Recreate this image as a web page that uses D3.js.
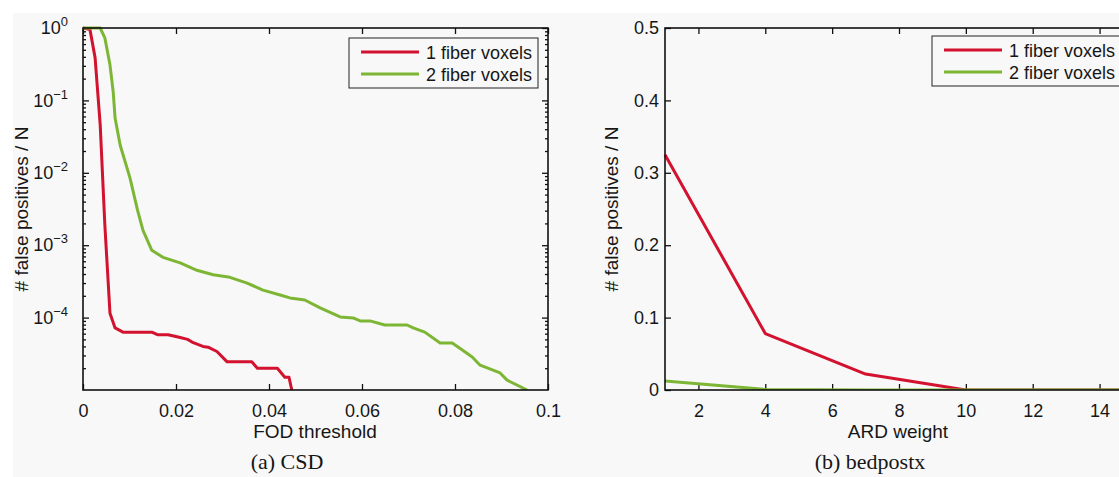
<!DOCTYPE html>
<html>
<head>
<meta charset="utf-8">
<script src="https://cdn.jsdelivr.net/npm/d3@7"></script>
<style>
	body { margin: 0; background: #fff; }
	svg { display: block; }
	.tick text { font-family: "Liberation Sans", Arial, sans-serif; font-size: 18px; fill: #161616; }
	.lbl { font-family: "Liberation Sans", Arial, sans-serif; font-size: 19px; fill: #161616; }
	.leg { font-family: "Liberation Sans", Arial, sans-serif; font-size: 18px; fill: #161616; }
	.cap { font-family: "Liberation Serif", "Times New Roman", serif; font-size: 22px; fill: #161616; }
</style>
</head>
<body>
<div id="vis"></div>
<script>
// (a) CSD, FOD threshold vs false positives / N (log scale)
var csdOneX = [0, 0.0015, 0.0026, 0.0037, 0.0047, 0.0058, 0.0069, 0.0086, 0.0148, 0.016, 0.0183, 0.0209, 0.0225,
	0.0237, 0.0258, 0.0269, 0.0288, 0.031, 0.0363, 0.0375, 0.0418, 0.0434, 0.0443, 0.0449];
var csdOneY = [1, 0.95, 0.39, 0.046, 0.0019, 1.15e-4, 7.2e-5, 6.3e-5, 6.3e-5, 5.8e-5, 5.8e-5, 5.3e-5, 5.0e-5,
	4.5e-5, 4.0e-5, 3.9e-5, 3.4e-5, 2.45e-5, 2.45e-5, 2.0e-5, 2.0e-5, 1.5e-5, 1.5e-5, 1e-5];

var csdTwoX = [0, 0.0037, 0.0047, 0.0058, 0.0065, 0.0069, 0.008, 0.0101, 0.0117, 0.0129, 0.0148, 0.0172, 0.0209,
	0.0245, 0.028, 0.0316, 0.0353, 0.0387, 0.0424, 0.0445, 0.0477, 0.051, 0.0553, 0.0581, 0.0596, 0.0617, 0.0649,
	0.0697, 0.071, 0.0735, 0.0768, 0.0794, 0.0815, 0.0837, 0.0854, 0.0897, 0.0912, 0.0955];
var csdTwoY = [1, 1, 0.73, 0.31, 0.13, 0.057, 0.024, 0.0085, 0.0031, 0.0016, 8.5e-4, 6.8e-4, 5.7e-4,
	4.5e-4, 3.9e-4, 3.6e-4, 3.0e-4, 2.4e-4, 2.05e-4, 1.87e-4, 1.75e-4, 1.36e-4, 1.02e-4, 9.9e-5, 9.0e-5, 9.0e-5, 7.9e-5,
	7.9e-5, 7.2e-5, 6.3e-5, 4.46e-5, 4.46e-5, 3.6e-5, 2.86e-5, 2.2e-5, 1.72e-5, 1.37e-5, 1e-5];

var csdXTicks = [0, 0.02, 0.04, 0.06, 0.08, 0.1];
var csdXLabels = ['0', '0.02', '0.04', '0.06', '0.08', '0.1'];
var csdYTicks = [1, 1e-1, 1e-2, 1e-3, 1e-4];
var csdYExp = ['0', '\u22121', '\u22122', '\u22123', '\u22124'];

// (b) bedpostx, ARD weight vs false positives / N
var ardX = [1, 4, 7, 10, 13, 16];
var ardOneY = [0.325, 0.078, 0.022, 0, 0, 0];
var ardTwoY = [0.0125, 0.0008, 0, 0, 0, 0];
var ardXTicks = [2, 4, 6, 8, 10, 12, 14];
var ardYTicks = [0, 0.1, 0.2, 0.3, 0.4, 0.5];
var ardYLabels = ['0', '0.1', '0.2', '0.3', '0.4', '0.5'];

var seriesNames = ['1 fiber voxels', '2 fiber voxels'];
var seriesColors = ['#d2122e', '#7db634'];

var width = 1119, height = 477;

var svg = d3.select('#vis')
	.append('svg')
	.attr('width', width)
	.attr('height', height);

svg.append('rect')
	.attr('x', 13).attr('y', 13)
	.attr('width', width - 13).attr('height', height - 13)
	.attr('fill', '#f8f8f8');

drawCsd();
drawArd();

// log-scale panel on the left
function drawCsd() {
	var x = d3.scaleLinear().domain([0, 0.1]).range([83, 548]);
	var y = d3.scaleLog().domain([1e-5, 1]).range([390, 28]);

	var minors = [];
	for (var k = -5; k < 0; k++) {
		for (var m = 2; m < 10; m++) minors.push(m * Math.pow(10, k));
	}

	drawMinor(svg, d3.axisLeft(y).tickValues(minors), 83);
	drawMinor(svg, d3.axisRight(y).tickValues(minors), 548);

	svg.append('g')
		.attr('transform', 'translate(0,390)')
		.call(d3.axisBottom(x).tickValues(csdXTicks).tickSize(-6).tickPadding(14)
			.tickFormat(function(d, i) { return csdXLabels[i]; }))
		.call(cleanAxis);
	svg.append('g')
		.attr('transform', 'translate(0,28)')
		.call(d3.axisTop(x).tickValues(csdXTicks).tickSize(-6).tickFormat(''))
		.call(cleanAxis);

	var left = svg.append('g')
		.attr('transform', 'translate(83,0)')
		.call(d3.axisLeft(y).tickValues(csdYTicks).tickSize(-6).tickPadding(15).tickFormat(''))
		.call(cleanAxis);
	left.selectAll('.tick text').each(function(d, i) {
		var t = d3.select(this).attr('dy', '0.32em');
		t.append('tspan').text('10');
		t.append('tspan').attr('dy', -8).style('font-size', '13px').text(csdYExp[i]);
	});
	svg.append('g')
		.attr('transform', 'translate(548,0)')
		.call(d3.axisRight(y).tickValues(csdYTicks).tickSize(-6).tickFormat(''))
		.call(cleanAxis);

	drawLine(svg, csdOneX, csdOneY, x, y, seriesColors[0], 'clipA');
	drawLine(svg, csdTwoX, csdTwoY, x, y, seriesColors[1], 'clipA');

	drawFrame(svg, 83, 28, 548 - 83, 362, 'clipA');

	drawLegend(svg, 349, 38);

	svg.append('text').attr('class', 'lbl')
		.attr('transform', 'translate(28,209) rotate(-90)')
		.attr('text-anchor', 'middle')
		.text('# false positives / N');
	svg.append('text').attr('class', 'lbl')
		.attr('x', 315).attr('y', 438)
		.attr('text-anchor', 'middle')
		.text('FOD threshold');
	svg.append('text').attr('class', 'cap')
		.attr('x', 287).attr('y', 469)
		.attr('text-anchor', 'middle')
		.text('(a) CSD');
}

// linear panel on the right (runs off the page edge)
function drawArd() {
	var x = d3.scaleLinear().domain([1, 15]).range([665, 1133]);
	var y = d3.scaleLinear().domain([0, 0.5]).range([390, 28]);

	svg.append('g')
		.attr('transform', 'translate(0,390)')
		.call(d3.axisBottom(x).tickValues(ardXTicks).tickSize(-6).tickPadding(14).tickFormat(d3.format('d')))
		.call(cleanAxis);
	svg.append('g')
		.attr('transform', 'translate(0,28)')
		.call(d3.axisTop(x).tickValues(ardXTicks).tickSize(-6).tickFormat(''))
		.call(cleanAxis);
	svg.append('g')
		.attr('transform', 'translate(665,0)')
		.call(d3.axisLeft(y).tickValues(ardYTicks).tickSize(-6).tickPadding(6)
			.tickFormat(function(d, i) { return ardYLabels[i]; }))
		.call(cleanAxis);

	drawLine(svg, ardX, ardOneY, x, y, seriesColors[0], 'clipB');
	drawLine(svg, ardX, ardTwoY, x, y, seriesColors[1], 'clipB');

	drawFrame(svg, 665, 28, 1133 - 665, 362, 'clipB');

	drawLegend(svg, 932, 36);

	svg.append('text').attr('class', 'lbl')
		.attr('transform', 'translate(618,209) rotate(-90)')
		.attr('text-anchor', 'middle')
		.text('# false positives / N');
	svg.append('text').attr('class', 'lbl')
		.attr('x', 898).attr('y', 438)
		.attr('text-anchor', 'middle')
		.text('ARD weight');
	svg.append('text').attr('class', 'cap')
		.attr('x', 870).attr('y', 469)
		.attr('text-anchor', 'middle')
		.text('(b) bedpostx');
}

// strip the domain path and colour tick lines
function cleanAxis(g) {
	g.select('.domain').remove();
	g.selectAll('.tick line').attr('stroke', '#111').attr('stroke-width', 1.3);
}

// small inside ticks for the log axis
function drawMinor(svg, axis, xPos) {
	svg.append('g')
		.attr('transform', 'translate(' + xPos + ',0)')
		.call(axis.tickSize(-3).tickFormat(''))
		.call(cleanAxis);
}

function drawLine(svg, xs, ys, x, y, color, clipId) {
	var pts = xs.map(function(v, i) { return [v, ys[i]]; });
	var line = d3.line()
		.x(function(d) { return x(d[0]); })
		.y(function(d) { return y(d[1]); });
	svg.append('path')
		.datum(pts)
		.attr('clip-path', 'url(#' + clipId + ')')
		.attr('d', line)
		.attr('fill', 'none')
		.attr('stroke', color)
		.attr('stroke-width', 3)
		.attr('stroke-linejoin', 'round');
}

// box round the plot area plus a clip for the lines
function drawFrame(svg, x0, y0, w, h, clipId) {
	svg.append('clipPath').attr('id', clipId)
		.append('rect')
		.attr('x', x0 - 2).attr('y', y0 - 2)
		.attr('width', w + 4).attr('height', h + 2);
	svg.append('rect')
		.attr('x', x0).attr('y', y0)
		.attr('width', w).attr('height', h)
		.attr('fill', 'none')
		.attr('stroke', '#111')
		.attr('stroke-width', 1.6);
}

function drawLegend(svg, lx, ly) {
	var g = svg.append('g').attr('transform', 'translate(' + lx + ',' + ly + ')');
	g.append('rect')
		.attr('width', 189).attr('height', 50)
		.attr('fill', '#f8f8f8')
		.attr('stroke', '#222')
		.attr('stroke-width', 1);
	seriesNames.forEach(function(name, i) {
		var cy = 14 + i * 22;
		g.append('line')
			.attr('x1', 12).attr('x2', 70)
			.attr('y1', cy).attr('y2', cy)
			.attr('stroke', seriesColors[i])
			.attr('stroke-width', 3);
		g.append('text').attr('class', 'leg')
			.attr('x', 77).attr('y', cy + 6.5)
			.text(name);
	});
}
</script>
</body>
</html>
